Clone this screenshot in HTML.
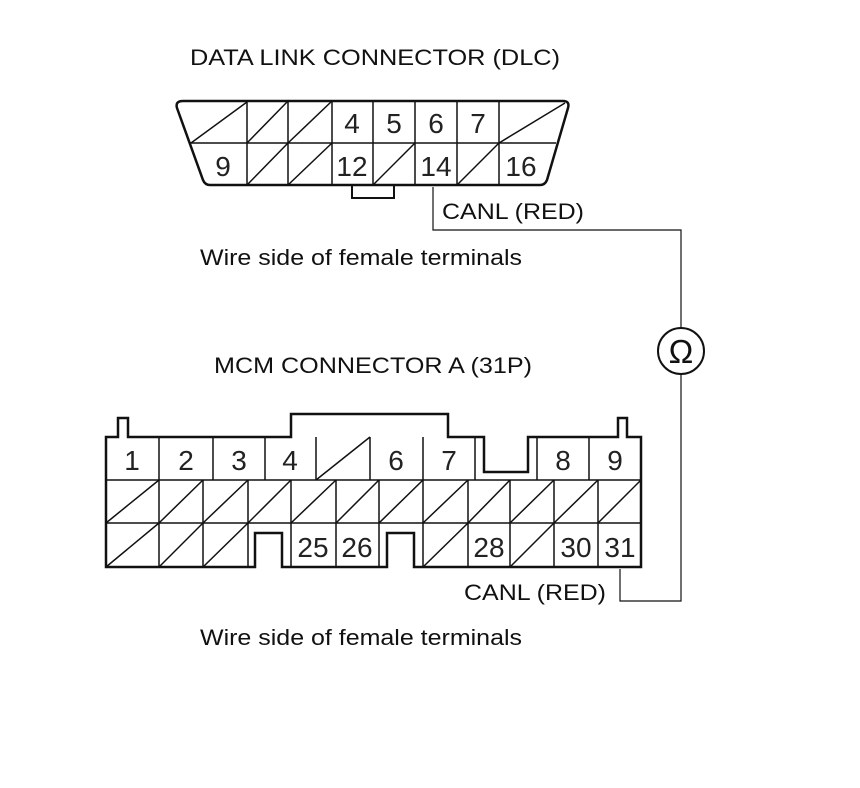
<!DOCTYPE html>
<html><head><meta charset="utf-8"><style>
html,body{margin:0;padding:0;background:#fff;}
svg{display:block;}
text{font-family:"Liberation Sans",sans-serif;fill:#111;}
.n{font-size:28px;text-anchor:middle;fill:#222;}
.t{font-size:22px;}
</style></head><body>
<svg width="860" height="788" viewBox="0 0 860 788" xmlns="http://www.w3.org/2000/svg">
<rect width="860" height="788" fill="#fff"/>
<text class="t" x="190" y="65" textLength="370" lengthAdjust="spacingAndGlyphs">DATA LINK CONNECTOR (DLC)</text>
<g stroke="#111" fill="none">
<path d="M183,101 L563,101 Q570,101 568,108 L547,180 Q545,185 540,185 L210,185 Q205,185 203,180 L177,108 Q175,101 183,101 Z" stroke-width="2.5"/>
<rect x="352" y="185" width="42" height="13" stroke-width="2"/>
<g stroke-width="1.5">
<line x1="190" y1="143" x2="556" y2="143"/>
<line x1="247" y1="101" x2="247" y2="185"/>
<line x1="288" y1="101" x2="288" y2="185"/>
<line x1="332" y1="101" x2="332" y2="185"/>
<line x1="373" y1="101" x2="373" y2="185"/>
<line x1="415" y1="101" x2="415" y2="185"/>
<line x1="457" y1="101" x2="457" y2="185"/>
<line x1="499" y1="101" x2="499" y2="185"/>
<line x1="191" y1="143" x2="247" y2="102"/>
<line x1="247" y1="143" x2="288" y2="101"/>
<line x1="288" y1="143" x2="332" y2="101"/>
<line x1="499" y1="143" x2="565" y2="103"/>
<line x1="247" y1="185" x2="288" y2="143"/>
<line x1="288" y1="185" x2="332" y2="143"/>
<line x1="373" y1="185" x2="415" y2="143"/>
<line x1="457" y1="185" x2="499" y2="143"/>
</g>
<g stroke-width="1.2">
<polyline points="433,187 433,230 681,230 681,328"/>
<circle cx="681" cy="351" r="23" stroke-width="2"/>
<polyline points="681,374 681,601 620,601 620,569"/>
</g>
</g>
<text class="n" x="352" y="133">4</text>
<text class="n" x="394" y="133">5</text>
<text class="n" x="436" y="133">6</text>
<text class="n" x="478" y="133">7</text>
<text class="n" x="223" y="176">9</text>
<text class="n" x="352" y="176">12</text>
<text class="n" x="436" y="176">14</text>
<text class="n" x="521" y="176">16</text>
<text x="681" y="363" style="font-size:33px;text-anchor:middle">Ω</text>
<text class="t" x="442" y="219" textLength="142" lengthAdjust="spacingAndGlyphs">CANL (RED)</text>
<text class="t" x="200" y="265" textLength="322" lengthAdjust="spacingAndGlyphs">Wire side of female terminals</text>
<text class="t" x="214" y="373" textLength="318" lengthAdjust="spacingAndGlyphs">MCM CONNECTOR A (31P)</text>
<g stroke="#111" fill="none">
<path d="M106,567 L106,437 L118,437 L118,418 L128,418 L128,437 L291,437 L291,414 L448,414 L448,437 L484,437 L484,472 L528,472 L528,437 L618,437 L618,418 L627,418 L627,437 L641,437 L641,567 L414,567 L414,533 L387,533 L387,567 L282,567 L282,533 L255,533 L255,567 Z" stroke-width="2.5"/>
<g stroke-width="1.5">
<line x1="106" y1="480" x2="641" y2="480"/>
<line x1="106" y1="523" x2="641" y2="523"/>
<line x1="159" y1="437" x2="159" y2="480"/>
<line x1="213" y1="437" x2="213" y2="480"/>
<line x1="265" y1="437" x2="265" y2="480"/>
<line x1="316" y1="437" x2="316" y2="480"/>
<line x1="370" y1="437" x2="370" y2="480"/>
<line x1="423" y1="437" x2="423" y2="480"/>
<line x1="475" y1="437" x2="475" y2="480"/>
<line x1="537" y1="437" x2="537" y2="480"/>
<line x1="589" y1="437" x2="589" y2="480"/>
<line x1="316" y1="480" x2="370" y2="437"/>
<line x1="159" y1="480" x2="159" y2="567"/>
<line x1="203" y1="480" x2="203" y2="567"/>
<line x1="248" y1="480" x2="248" y2="567"/>
<line x1="291" y1="480" x2="291" y2="567"/>
<line x1="336" y1="480" x2="336" y2="567"/>
<line x1="379" y1="480" x2="379" y2="567"/>
<line x1="423" y1="480" x2="423" y2="567"/>
<line x1="468" y1="480" x2="468" y2="567"/>
<line x1="510" y1="480" x2="510" y2="567"/>
<line x1="554" y1="480" x2="554" y2="567"/>
<line x1="598" y1="480" x2="598" y2="567"/>
<line x1="106" y1="523" x2="159" y2="480"/>
<line x1="159" y1="523" x2="203" y2="480"/>
<line x1="203" y1="523" x2="248" y2="480"/>
<line x1="248" y1="523" x2="291" y2="480"/>
<line x1="291" y1="523" x2="336" y2="480"/>
<line x1="336" y1="523" x2="379" y2="480"/>
<line x1="379" y1="523" x2="423" y2="480"/>
<line x1="423" y1="523" x2="468" y2="480"/>
<line x1="468" y1="523" x2="510" y2="480"/>
<line x1="510" y1="523" x2="554" y2="480"/>
<line x1="554" y1="523" x2="598" y2="480"/>
<line x1="598" y1="523" x2="641" y2="480"/>
<line x1="106" y1="567" x2="159" y2="523"/>
<line x1="159" y1="567" x2="203" y2="523"/>
<line x1="203" y1="567" x2="248" y2="523"/>
<line x1="423" y1="567" x2="468" y2="523"/>
<line x1="510" y1="567" x2="554" y2="523"/>
</g>
</g>
<text class="n" x="132" y="470">1</text>
<text class="n" x="186" y="470">2</text>
<text class="n" x="239" y="470">3</text>
<text class="n" x="290" y="470">4</text>
<text class="n" x="396" y="470">6</text>
<text class="n" x="449" y="470">7</text>
<text class="n" x="563" y="470">8</text>
<text class="n" x="615" y="470">9</text>
<text class="n" x="313" y="557">25</text>
<text class="n" x="357" y="557">26</text>
<text class="n" x="489" y="557">28</text>
<text class="n" x="576" y="557">30</text>
<text class="n" x="620" y="557">31</text>
<text class="t" x="464" y="600" textLength="142" lengthAdjust="spacingAndGlyphs">CANL (RED)</text>
<text class="t" x="200" y="645" textLength="322" lengthAdjust="spacingAndGlyphs">Wire side of female terminals</text>
</svg>
</body></html>
